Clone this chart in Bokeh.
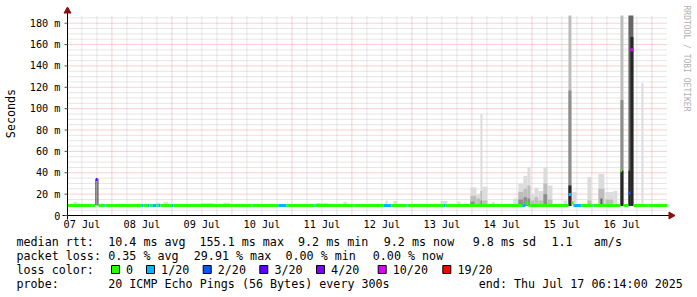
import math
from bokeh.plotting import figure
from bokeh.models import Range1d, ColumnDataSource
from bokeh.core.properties import value
from bokeh.embed import file_html
from bokeh.resources import INLINE

# ---------------- data (time in hours since 2025-07-07 00:00, rtt in ms) ----------------
START_H = 6 + 14 / 60          # Mon Jul 07 06:14
END_H = 240 + 6 + 14 / 60      # Thu Jul 17 06:14

day_labels = ["07 Jul", "08 Jul", "09 Jul", "10 Jul", "11 Jul",
              "12 Jul", "13 Jul", "14 Jul", "15 Jul", "16 Jul"]
day_label_hours = [12, 36, 60, 84, 108, 132, 156, 180, 204, 228]   # noon of each day

y_ticks = [0, 20, 40, 60, 80, 100, 120, 140, 160, 180]
y_tick_labels = ["0", "20 m", "40 m", "60 m", "80 m", "100 m", "120 m", "140 m", "160 m", "180 m"]

# median rtt, piecewise (start h, end h, median ms, lost pings of 20)
med_start = [6.23, 15.8, 16.2, 17.6, 18.6, 21.0, 21.4, 35.8, 36.6, 38.2, 39.0, 40.2, 41.8, 42.6,
             43.4, 47.8, 48.6, 79.8, 80.2, 90.6, 93.8, 105.0, 105.4, 120.6, 121.0, 132.6, 135.8,
             141.8, 142.2, 156.6, 157.4, 188.2, 189.4, 190.6, 206.6, 207.8, 208.6, 211.8, 216.2,
             216.6, 227.4, 228.6, 230.6, 231.4, 232.6, 238.2, 238.6]
med_end = [15.8, 16.2, 17.4, 18.2, 21.0, 21.4, 35.8, 36.6, 38.2, 39.0, 40.2, 41.8, 42.6, 43.4,
           47.8, 48.6, 79.8, 80.2, 90.6, 93.8, 105.0, 105.4, 120.6, 121.0, 132.6, 135.8, 141.8,
           142.2, 156.6, 157.4, 188.2, 189.4, 190.6, 206.6, 207.8, 208.6, 211.8, 216.2, 216.6,
           227.4, 228.0, 230.6, 231.4, 232.6, 238.2, 238.6, 246.23]
med_ms = [9.3, 9.3, 9.3, 33.8, 9.3, 9.3, 9.3, 9.3, 9.3, 9.3, 9.3, 9.3, 9.3, 9.3,
          9.3, 9.3, 9.3, 9.3, 9.3, 9.3, 9.3, 9.3, 9.3, 9.3, 9.3, 9.3, 9.3,
          9.3, 9.3, 9.3, 9.3, 9.3, 12.0, 9.3, 19.6, 12.0, 9.3, 9.3, 9.3,
          9.3, 42.0, 9.3, 21.0, 155.1, 9.3, 9.3, 9.3]
med_lost = [0, 1, 0, 3, 0, 1, 0, 1, 0, 1, 0, 1, 0, 1,
            0, 1, 0, 1, 0, 1, 0, 1, 0, 1, 0, 1, 0,
            1, 0, 1, 0, 1, 0, 0, 1, 0, 1, 0, 1,
            0, 0, 0, 2, 10, 0, 1, 0]

# smoke (spread of the 20 pings): start h, end h, low ms, high ms, density band (1 sparse .. 5 dense)
smoke_start = [8.6, 17.4, 18.2, 41.4, 44.6, 59.4, 68.6, 105.4, 116.6, 133.4, 136.6, 155.4, 162.2,
               167.4, 167.4, 167.4, 169.8, 169.8, 171.4, 171.4, 171.4, 172.2, 172.2, 176.0,
               184.6, 186.6, 186.6, 186.6, 188.6, 188.6, 188.6, 190.2, 190.2, 190.2, 191.4, 191.4,
               193.0, 193.0, 194.6, 194.6, 196.6, 196.6, 196.6, 198.2, 198.2, 204.6,
               206.6, 206.6, 206.6, 208.2, 214.2, 214.2, 218.6, 218.6, 219.4, 221.4, 221.4, 224.6,
               227.4, 227.4, 227.4, 230.6, 231.4, 230.6, 235.8]
smoke_end = [10.2, 17.8, 18.6, 43.4, 46.6, 64.6, 71.4, 110.6, 118.2, 134.2, 138.2, 158.2, 163.4,
             169.8, 169.8, 169.0, 171.4, 171.4, 172.2, 172.2, 172.2, 174.2, 174.2, 177.2,
             186.6, 188.6, 188.6, 188.6, 190.2, 190.2, 190.2, 191.4, 191.4, 191.4, 193.0, 193.0,
             194.6, 194.6, 196.6, 196.6, 198.2, 198.2, 198.2, 200.2, 200.2, 206.2,
             207.8, 207.8, 207.8, 209.8, 215.8, 215.8, 221.0, 221.0, 220.2, 224.6, 224.6, 226.2,
             228.6, 228.6, 228.6, 232.6, 232.6, 231.4, 236.6]
smoke_lo = [8.8, 9.3, 9.3, 8.8, 8.8, 8.8, 8.8, 8.8, 8.8, 8.8, 8.8, 8.8, 8.8,
            8.8, 9.0, 9.0, 8.8, 9.0, 8.8, 9.0, 9.0, 8.8, 9.0, 8.8,
            8.8, 8.8, 9.0, 9.0, 8.8, 9.0, 9.0, 8.8, 9.0, 9.0, 8.8, 9.0,
            8.8, 9.0, 8.8, 9.0, 8.8, 9.0, 9.0, 8.8, 9.0, 8.8,
            8.8, 8.8, 9.0, 8.8, 8.8, 9.0, 8.8, 9.0, 9.0, 8.8, 9.0, 8.8,
            8.8, 8.8, 9.0, 8.8, 9.0, 9.0, 8.8]
smoke_hi = [12.6, 34.4, 34.4, 12.0, 12.6, 11.6, 12.0, 11.6, 12.6, 14.0, 13.5, 13.5, 13.0,
            26.5, 18.5, 13.0, 20.0, 16.0, 95.0, 23.0, 14.0, 27.0, 14.0, 12.5,
            16.0, 30.0, 22.0, 15.0, 37.0, 25.0, 17.0, 45.0, 28.0, 16.0, 20.0, 14.0,
            26.0, 17.0, 23.0, 14.0, 45.0, 30.0, 20.0, 28.0, 15.0, 14.0,
            187.2, 117.0, 28.0, 22.0, 36.0, 14.0, 39.0, 25.0, 16.0, 22.0, 15.0, 23.0,
            187.2, 108.0, 42.0, 187.2, 167.0, 42.0, 124.0]
smoke_band = [1, 5, 5, 1, 1, 1, 1, 1, 1, 1, 1, 1, 1,
              1, 2, 3, 1, 2, 1, 2, 3, 1, 2, 1,
              1, 1, 2, 3, 1, 2, 3, 1, 2, 3, 1, 2,
              1, 2, 1, 2, 1, 2, 3, 1, 2, 1,
              2, 3, 5, 1, 1, 2, 1, 2, 4, 1, 2, 1,
              2, 3, 5, 4, 5, 5, 1]

# loss colour classes
loss_class = [0, 1, 2, 3, 4, 10, 19]
loss_labels = ["0", "1/20", "2/20", "3/20", "4/20", "10/20", "19/20"]
loss_colors = ["#26ff00", "#00b8ff", "#0059ff", "#5e00ff", "#7e00ff", "#dd00ff", "#ff0000"]

# legend texts
rtt_title = "median rtt:"
rtt_stats = ["10.4 ms avg", "155.1 ms max", "9.2 ms min", "9.2 ms now", "9.8 ms sd", "1.1", "am/s"]
loss_title = "packet loss:"
loss_stats = ["0.35 % avg", "29.91 % max", "0.00 % min", "0.00 % now"]
color_title = "loss color:"
probe_title = "probe:"
probe_text = "20 ICMP Echo Pings (56 Bytes) every 300s"
end_text = "end: Thu Jul 17 06:14:00 2025"
watermark = "RRDTOOL / TOBI OETIKER"
y_title = "Seconds"

# ---------------- styling ----------------
MONO = value("DejaVu Sans Mono")
band_grey = {1: "#dcdcdc", 2: "#bdbdbd", 3: "#8e8e8e", 4: "#666666", 5: "#262626"}
YMAX = 187.2
W, H = 697, 297
FL, FT, FW, FH = 67, 15, 600, 200          # rrd graph area in canvas pixels
px_x = (END_H - START_H) / FW
px_y = YMAX / FH


def xd(px):          # canvas pixel -> data x (hours)
    return START_H + (px - FL) * px_x


def yd(py):          # canvas pixel -> data y (ms)
    return (FT + FH - py) * px_y


def loss_color(n):
    col = loss_colors[0]
    for c, colr in zip(loss_class, loss_colors):
        if n >= c:
            col = colr
    return col


# the whole canvas is the plotting frame; the rrd graph area sits inside it with the same scales
p = figure(width=W, height=H, output_backend="svg", toolbar_location=None,
           x_range=Range1d(xd(0), xd(W)), y_range=Range1d(yd(H), yd(0)),
           min_border=0, x_axis_type=None, y_axis_type=None)
p.outline_line_color = None
p.background_fill_color = "white"
p.border_fill_color = "white"
p.xgrid.visible = False
p.ygrid.visible = False

# ---- grid ----
midnights = list(range(24, 241, 24))
six_hours = [h for h in range(12, 246, 6) if h % 24 != 0]
minor_ms = [v for v in range(5, 187, 5) if v % 20 != 0]
major_ms = y_ticks[1:]
MINOR_C, MAJOR_C = "#cccccc", "#f2a0a0"
p.segment(x0=six_hours, x1=six_hours, y0=[0] * len(six_hours), y1=[YMAX] * len(six_hours),
          line_color=MINOR_C, line_dash="1 1", line_width=1)
p.segment(x0=[START_H] * len(minor_ms), x1=[END_H] * len(minor_ms), y0=minor_ms, y1=minor_ms,
          line_color=MINOR_C, line_dash="1 1", line_width=1)
p.segment(x0=midnights, x1=midnights, y0=[0] * len(midnights), y1=[YMAX] * len(midnights),
          line_color=MAJOR_C, line_dash="1 1", line_width=1)
p.segment(x0=[START_H] * len(major_ms), x1=[END_H] * len(major_ms), y0=major_ms, y1=major_ms,
          line_color=MAJOR_C, line_dash="1 1", line_width=1)

# ---- smoke ----
smoke_src = ColumnDataSource(dict(left=smoke_start, right=smoke_end, bottom=smoke_lo, top=smoke_hi,
                                  color=[band_grey[b] for b in smoke_band]))
p.quad(left="left", right="right", bottom="bottom", top="top", fill_color="color",
       line_color=None, source=smoke_src)

# ---- median line coloured by loss ----
med_src = ColumnDataSource(dict(x0=med_start, x1=med_end, y=med_ms,
                                color=[loss_color(n) for n in med_lost]))
p.segment(x0="x0", y0="y", x1="x1", y1="y", line_color="color", line_width=3,
          line_cap="butt", source=med_src)

# ---- axes ----
p.segment(x0=[xd(62)], x1=[xd(669)], y0=[0], y1=[0], line_color="black", line_width=1)
p.segment(x0=[START_H], x1=[START_H], y0=[yd(219)], y1=[yd(12)], line_color="black", line_width=1)
p.scatter(x=[xd(670.5)], y=[0], marker="triangle", size=7, angle=-math.pi / 2,
          fill_color="#8b1010", line_color="#8b1010")
p.scatter(x=[START_H], y=[yd(10.5)], marker="triangle", size=7,
          fill_color="#8b1010", line_color="#8b1010")
p.segment(x0=[xd(64)] * len(y_ticks), x1=[START_H] * len(y_ticks), y0=y_ticks, y1=y_ticks,
          line_color="#555555", line_width=1)

p.text(x=[xd(60)] * len(y_ticks), y=y_ticks, text=y_tick_labels, text_align="right",
       text_baseline="middle", text_font=MONO, text_font_size="10.2px", text_color="black")
p.text(x=day_label_hours, y=[yd(224)] * len(day_label_hours), text=day_labels, text_align="center",
       text_baseline="middle", text_font=MONO, text_font_size="10.2px", text_color="black")
p.text(x=[xd(10)], y=[yd(113)], text=[y_title], angle=math.pi / 2, text_align="center",
       text_baseline="middle", text_font=MONO, text_font_size="11.7px", text_color="black")
p.text(x=[xd(686)], y=[yd(5)], text=[watermark], angle=-math.pi / 2, text_align="left",
       text_baseline="middle", text_font=MONO, text_font_size="8px", text_color="#b0b0b0")

# ---- legend below the graph ----
ROW = [241, 255, 269, 283]
leg_x, leg_y, leg_t = [], [], []


def put(px, py, txt):
    leg_x.append(xd(px))
    leg_y.append(yd(py))
    leg_t.append(txt)


put(16, ROW[0], rtt_title)
for px, t in zip([107.7, 199, 297.5, 383.3, 472.3, 551, 593.3], rtt_stats):
    put(px, ROW[0], t)
put(16, ROW[1], loss_title)
for px, t in zip([107.7, 193.3, 285, 372.3], loss_stats):
    put(px, ROW[1], t)
put(16, ROW[2], color_title)
box_left = [111, 146, 202.7, 259.3, 316, 377.7, 442.3]
for b, t in zip(box_left, loss_labels):
    put(b + 14.6, ROW[2], t)
put(16, ROW[3], probe_title)
put(107.7, ROW[3], probe_text)
put(478.3, ROW[3], end_text)
p.text(x=leg_x, y=leg_y, text=leg_t, text_align="left", text_baseline="middle",
       text_font=MONO, text_font_size="11.7px", text_color="black")

p.rect(x=[xd(b + 4) for b in box_left], y=[yd(ROW[2])] * len(box_left),
       width=8 * px_x, height=8 * px_y, fill_color=loss_colors, line_color="black", line_width=1)

open("out.html", "w").write(file_html(p, INLINE))
